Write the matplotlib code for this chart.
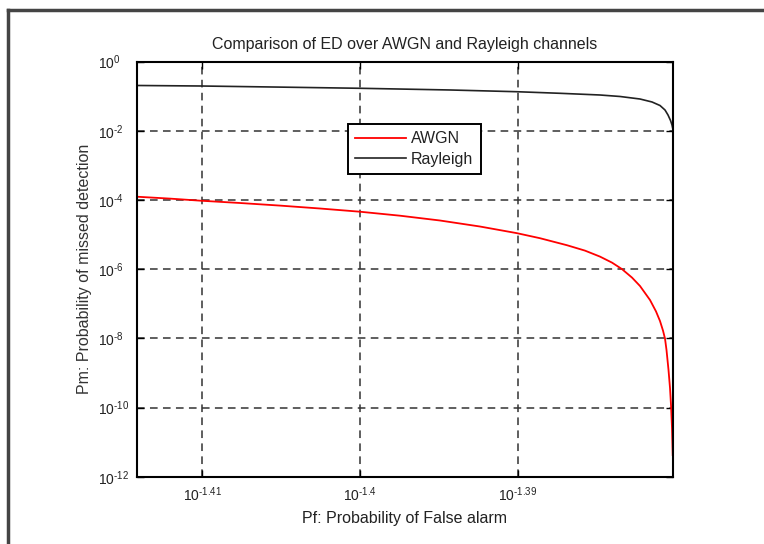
import matplotlib
matplotlib.use('Agg')
import matplotlib.pyplot as plt
from matplotlib.lines import Line2D
from matplotlib.ticker import FixedLocator, FixedFormatter, NullLocator
import numpy as np

plt.rcParams['font.family'] = ['Liberation Sans', 'DejaVu Sans']
plt.rcParams['mathtext.fontset'] = 'custom'
plt.rcParams['mathtext.rm'] = 'Liberation Sans'
plt.rcParams['mathtext.it'] = 'Liberation Sans'

# Pf exponents (log10) and log10 of Pm
awgn_pf_exp = [-1.414146, -1.412037, -1.410073, -1.407602, -1.405068, -1.402534,
               -1.400000, -1.397466, -1.394932, -1.392398, -1.390073, -1.388597,
               -1.386886, -1.385746, -1.384796, -1.384035, -1.383402, -1.382768,
               -1.382262, -1.381628, -1.381248, -1.380995, -1.380805, -1.380678,
               -1.380583, -1.380456, -1.380361, -1.380298, -1.380235, -1.380190]
awgn_pm_exp = [-3.904, -3.959, -4.020, -4.086, -4.161, -4.245,
               -4.338, -4.453, -4.592, -4.766, -4.957, -5.104,
               -5.307, -5.463, -5.636, -5.810, -5.998, -6.243,
               -6.486, -6.891, -7.221, -7.499, -7.776, -8.008,
               -8.337, -8.916, -9.436, -9.928, -10.593, -11.374]

rayl_pf_exp = [-1.414146, -1.410073, -1.405068, -1.400000, -1.394298, -1.390073,
               -1.387330, -1.384796, -1.383529, -1.382262, -1.381501, -1.380995,
               -1.380678, -1.380488, -1.380329, -1.380235, -1.380152]
rayl_pm_exp = [-0.688, -0.703, -0.735, -0.769, -0.818, -0.868,
               -0.914, -0.963, -1.006, -1.079, -1.165, -1.267,
               -1.397, -1.541, -1.700, -1.831, -2.004]

x_tick_exp = [-1.41, -1.40, -1.39]
x_tick_labels = [r'$10^{\text{-1.41}}$', r'$10^{\text{-1.4}}$', r'$10^{\text{-1.39}}$']
y_tick_exp = [0, -2, -4, -6, -8, -10, -12]
y_tick_labels = [r'$10^{\text{%d}}$' % e for e in y_tick_exp]

fig = plt.figure(figsize=(7.64, 5.44), dpi=100)
ax = fig.add_axes([0.1789, 0.1237, 0.7024, 0.7629])

ax.plot(10 ** np.array(awgn_pf_exp), 10 ** np.array(awgn_pm_exp),
        color='red', lw=1.3, label='AWGN')
ax.plot(10 ** np.array(rayl_pf_exp), 10 ** np.array(rayl_pm_exp),
        color='#222222', lw=1.2, label='Rayleigh')

ax.set_xscale('log')
ax.set_yscale('log')
ax.set_xlim(10 ** -1.414146, 10 ** -1.380152)
ax.set_ylim(1e-12, 1)

ax.xaxis.set_major_locator(FixedLocator([10 ** e for e in x_tick_exp]))
ax.xaxis.set_major_formatter(FixedFormatter(x_tick_labels))
ax.xaxis.set_minor_locator(NullLocator())
ax.yaxis.set_major_locator(FixedLocator([10.0 ** e for e in y_tick_exp]))
ax.yaxis.set_major_formatter(FixedFormatter(y_tick_labels))
ax.yaxis.set_minor_locator(NullLocator())

ax.tick_params(direction='in', length=5, width=1, top=True, right=True,
               labelsize=10, labelcolor='#222222')
ax.tick_params(axis='x', pad=6)
ax.tick_params(axis='y', pad=28)
for lab in ax.get_yticklabels():
    lab.set_horizontalalignment('left')
for s in ax.spines.values():
    s.set_linewidth(1.5)
    s.set_color('black')

ax.grid(True, which='major', color='#333333', linestyle=(0, (5, 3.5)), lw=1.1)

ax.set_title('Comparison of ED over AWGN and Rayleigh channels', fontsize=11.5,
             pad=9, color='#222222')
ax.set_xlabel('Pf: Probability of False alarm', fontsize=11.5, labelpad=5,
              color='#222222')
ax.set_ylabel('Pm: Probability of missed detection', fontsize=11.5, labelpad=4,
              color='#333333')

leg = ax.legend(loc='upper left', bbox_to_anchor=(0.394, 0.850), fontsize=11.5,
                fancybox=False, framealpha=1, edgecolor='black',
                handlelength=3.2, handletextpad=0.3, borderpad=0.45,
                labelspacing=0.35, borderaxespad=0)
leg.get_frame().set_linewidth(1.4)
for t in leg.get_texts():
    t.set_color('#222222')

# outer frame lines at top and left
fig.add_artist(Line2D([0.0105, 1.0], [0.981, 0.981], transform=fig.transFigure,
                      color='#444444', lw=2.5))
fig.add_artist(Line2D([0.0105, 0.0105], [0.0, 0.981], transform=fig.transFigure,
                      color='#444444', lw=2.5))

fig.savefig('out.png', dpi=100, facecolor='white')
